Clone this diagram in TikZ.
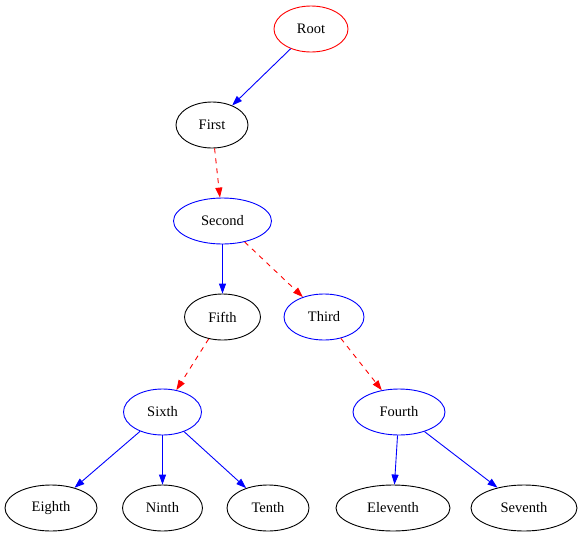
\documentclass[tikz,border=0pt]{standalone}
\usepackage{fontspec}
\setmainfont{Liberation Serif}
\usetikzlibrary{shapes.geometric,arrows.meta}

\begin{document}
\begin{tikzpicture}[x=1pt,y=-1pt,line width=0.9pt,
  every node/.style={ellipse,draw,inner sep=0pt,minimum height=46pt,font=\fontsize{14.5}{16}\selectfont},
  blue node/.style={draw=blue},
  red node/.style={draw=red},
  solid edge/.style={draw=blue,-{Triangle[length=10pt,width=7pt,fill=blue]}},
  dash edge/.style={draw=red,dash pattern=on 5pt off 5pt,-{Triangle[length=10pt,width=7pt,fill=red]}}]
\useasboundingbox (0,0) rectangle (582,539);
\node [red node,minimum width=74pt] (root) at (311,29) {Root};
\node [minimum width=72pt] (first) at (212,125) {First};
\node [blue node,minimum width=98pt] (second) at (222.5,221) {Second};
\node [minimum width=76pt] (fifth) at (222.5,317) {Fifth};
\node [blue node,minimum width=80pt] (third) at (324,317) {Third};
\node [blue node,minimum width=78pt] (sixth) at (162.5,412) {Sixth};
\node [blue node,minimum width=92pt] (fourth) at (399,412) {Fourth};
\node [minimum width=92pt] (eighth) at (51,508) {Eighth};
\node [minimum width=80pt] (ninth) at (162.5,508) {Ninth};
\node [minimum width=82pt] (tenth) at (268,508) {Tenth};
\node [minimum width=114pt] (eleventh) at (393,508) {Eleventh};
\node [minimum width=106pt] (seventh) at (524,508) {Seventh};
% edges
\draw [solid edge] (root) -- (first);
\draw [dash edge] (first) -- (second);
\draw [solid edge] (second) -- (fifth);
\draw [dash edge] (second) -- (third);
\draw [dash edge] (fifth) -- (sixth);
\draw [dash edge] (third) -- (fourth);
\draw [solid edge] (sixth) -- (eighth);
\draw [solid edge] (sixth) -- (ninth);
\draw [solid edge] (sixth) -- (tenth);
\draw [solid edge] (fourth) -- (eleventh);
\draw [solid edge] (fourth) -- (seventh);
\end{tikzpicture}
\end{document}
